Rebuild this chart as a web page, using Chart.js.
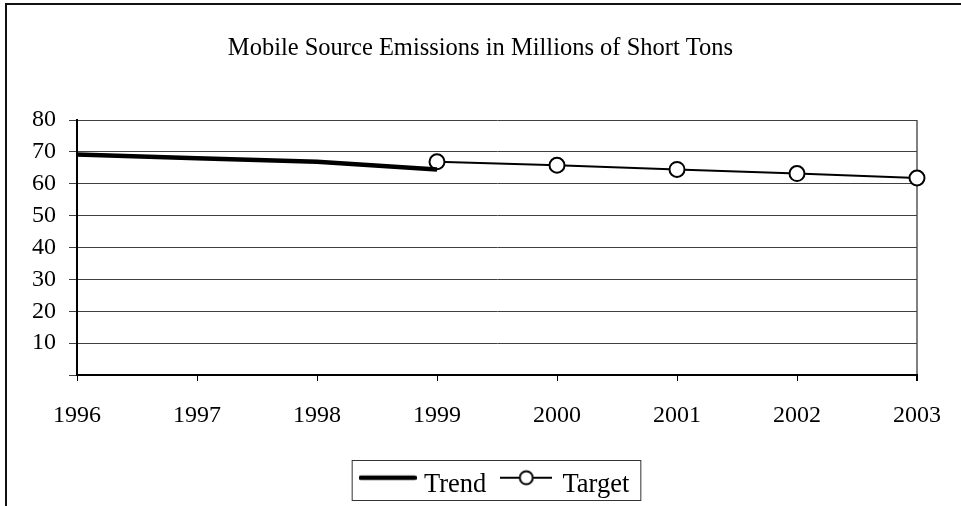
<!DOCTYPE html>
<html>
<head>
<meta charset="utf-8">
<script src="https://cdn.jsdelivr.net/npm/chart.js@4/dist/chart.umd.min.js"></script>
<style>
  html, body { margin: 0; padding: 0; background: #fff; overflow: hidden; }
  #wrap { width: 961px; height: 506px; overflow: hidden; }
</style>
</head>
<body>
<div id="wrap"><canvas id="chart" width="961" height="514"></canvas></div>
<script>
const years = ['1996', '1997', '1998', '1999', '2000', '2001', '2002', '2003']
const trend = [69.2, 68.0, 66.9, 64.5, null, null, null, null]
const target = [null, null, null, 66.9, 65.8, 64.5, 63.2, 61.8]
const yTicks = [0, 10, 20, 30, 40, 50, 60, 70, 80]

const serif = '"Liberation Serif", "Times New Roman", serif'

// legend markers, drawn a bit above the text middle like the original
function trendMarker() {
  const c = document.createElement('canvas')
  c.width = 58
  c.height = 22
  const ctx = c.getContext('2d')
  ctx.strokeStyle = '#000'
  ctx.lineWidth = 4.5
  ctx.lineCap = 'round'
  ctx.beginPath()
  ctx.moveTo(2, 4)
  ctx.lineTo(56, 4)
  ctx.stroke()
  return c
}

function targetMarker() {
  const c = document.createElement('canvas')
  c.width = 52
  c.height = 32
  const ctx = c.getContext('2d')
  ctx.strokeStyle = '#000'
  ctx.lineWidth = 2
  ctx.beginPath()
  ctx.moveTo(0, 9)
  ctx.lineTo(52, 9)
  ctx.stroke()
  ctx.beginPath()
  ctx.arc(26, 9, 6.5, 0, Math.PI * 2)
  ctx.fillStyle = '#fff'
  ctx.fill()
  ctx.stroke()
  return c
}

const markers = [trendMarker(), targetMarker()]

const framePlugin = {
  id: 'frame',
  beforeDraw(chart) {
    const ctx = chart.ctx
    ctx.save()
    ctx.fillStyle = '#fff'
    ctx.fillRect(0, 0, chart.width, chart.height)
    ctx.strokeStyle = '#111'
    ctx.lineWidth = 2
    ctx.beginPath()
    ctx.moveTo(6, chart.height)
    ctx.lineTo(6, 4)
    ctx.lineTo(chart.width, 4)
    ctx.stroke()
    ctx.restore()
  },
  afterDraw(chart) {
    const boxes = chart.legend.legendHitBoxes
    if (!boxes || !boxes.length) return
    const first = boxes[0]
    const last = boxes[boxes.length - 1]
    const cy = first.top + first.height / 2
    const ctx = chart.ctx
    ctx.save()
    ctx.strokeStyle = '#333'
    ctx.lineWidth = 1
    ctx.strokeRect(first.left - 12.5, Math.round(cy - 25) + 0.5, last.left + last.width - first.left + 24, 40)
    ctx.restore()
  },
}

new Chart(document.getElementById('chart'), {
  type: 'line',
  data: {
    labels: years,
    datasets: [
      {
        label: 'Trend',
        data: trend,
        borderColor: '#000',
        borderWidth: 4.5,
        pointRadius: 0,
        tension: 0,
      },
      {
        label: 'Target',
        data: target,
        borderColor: '#000',
        borderWidth: 2,
        pointRadius: 7.5,
        pointBorderWidth: 2,
        pointBackgroundColor: '#fff',
        pointBorderColor: '#000',
        tension: 0,
      },
    ],
  },
  options: {
    responsive: false,
    animation: false,
    layout: { padding: { left: 0, right: 0, top: 0, bottom: 6 } },
    plugins: {
      title: {
        display: true,
        text: 'Mobile Source Emissions in Millions of Short Tons',
        color: '#000',
        font: { family: serif, size: 24.5, weight: 'normal' },
        padding: { top: 34, bottom: 56.6 },
      },
      legend: {
        position: 'bottom',
        fullSize: false,
        labels: {
          color: '#000',
          font: { family: serif, size: 26.5 },
          usePointStyle: true,
          pointStyleWidth: 46,
          padding: 17,
          generateLabels: (chart) =>
            chart.data.datasets.map((ds, i) => ({
              text: ds.label,
              pointStyle: markers[i],
              datasetIndex: i,
              fontColor: '#000',
              lineWidth: 0,
              hidden: false,
            })),
        },
      },
      tooltip: { enabled: false },
    },
    scales: {
      x: {
        offset: false,
        afterFit: (s) => {
          s.height = 79.5
        },
        border: { display: true, color: '#000', width: 2 },
        grid: {
          drawOnChartArea: true,
          color: (ctx) => (ctx.index === years.length - 1 ? '#808080' : 'rgba(0,0,0,0)'),
          lineWidth: (ctx) => (ctx.index === years.length - 1 ? 2 : 1),
          tickColor: '#000',
          tickLength: 6,
        },
        ticks: {
          color: '#000',
          font: { family: serif, size: 24 },
          padding: 20,
          maxRotation: 0,
          autoSkip: false,
        },
      },
      y: {
        min: 0,
        max: 80,
        afterFit: (s) => {
          s.width = 77
        },
        afterBuildTicks: (s) => {
          s.ticks = yTicks.map((v) => ({ value: v }))
        },
        border: { display: true, color: '#000', width: 2 },
        grid: {
          color: '#404040',
          lineWidth: 1,
          tickColor: '#404040',
          tickLength: 8,
        },
        ticks: {
          color: '#000',
          font: { family: serif, size: 24 },
          padding: 13,
          callback: (v) => (v === 0 ? '' : v),
        },
      },
      // empty right-hand space, keeps the plot right edge at 2003
      yRight: {
        position: 'right',
        min: 0,
        max: 80,
        afterFit: (s) => {
          s.width = 42
        },
        border: { display: false },
        grid: { display: false },
        ticks: { display: false },
      },
    },
  },
  plugins: [framePlugin],
})
</script>
</body>
</html>
